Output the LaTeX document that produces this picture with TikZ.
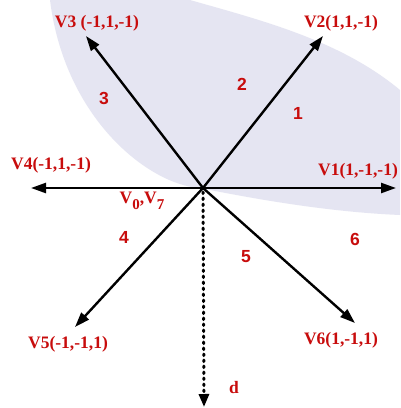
\documentclass[tikz,border=0pt]{standalone}
\usepackage{fontspec}
\setmainfont{Liberation Serif}
\newfontfamily\numfont{Liberation Sans}
\usetikzlibrary{arrows.meta}
\definecolor{lab}{RGB}{200,12,12}
\definecolor{lav}{RGB}{229,229,242}
\newcommand{\lowsub}[1]{\raisebox{-6pt}{\fontsize{15}{15}\selectfont #1}}
\tikzset{
  vec/.style={line width=2.4pt, -{Triangle[length=15pt,width=10pt]}},
  dvec/.style={line width=3pt, line cap=round, dash pattern=on 1.6pt off 4.4pt, -{Triangle[length=13pt,width=10pt]}},
  vlab/.style={text=lab, font=\fontsize{17.5}{18}\selectfont\bfseries, anchor=base, inner sep=0pt},
  slab/.style={text=lab, font=\fontsize{17.5}{18}\selectfont\numfont\bfseries, inner sep=0pt}
}
\begin{document}
\begin{tikzpicture}[x=1pt,y=-1pt]
\useasboundingbox (0,0) rectangle (400,408);
\fill[white] (0,0) rectangle (400,408);
% faint background band
\fill[lav] (50,0) .. controls (65,120) and (150,185) .. (200,188)
  .. controls (260,200) and (330,212) .. (400,215) -- (400,90)
  .. controls (340,40) and (260,20) .. (190,0) -- cycle;
% centre and tips
\coordinate (o) at (203,188);
\coordinate (t1) at (396,188);
\coordinate (t2) at (323,36);
\coordinate (t3) at (86,36);
\coordinate (t4) at (31,188);
\coordinate (t5) at (75,327);
\coordinate (t6) at (355,323);
\coordinate (td) at (204,407);
\draw[vec] (o) -- (t1);
\draw[vec] (o) -- (t2);
\draw[vec] (o) -- (t3);
\draw[vec] (o) -- (t4);
\draw[vec] (o) -- (t5);
\draw[vec] (o) -- (t6);
\draw[dvec] ([yshift=-4pt]o) -- (td);
% vector labels
\node[vlab] (l3) at (97,27) {V3 (-1,1,-1)};
\node[vlab] (l2) at (341,27) {V2(1,1,-1)};
\node[vlab] (l4) at (51,169) {V4(-1,1,-1)};
\node[vlab] (l1) at (358,175) {V1(1,-1,-1)};
\node[vlab] (l0) at (142,203) {V\lowsub{0},V\lowsub{7}};
\node[vlab] (l5) at (68,348) {V5(-1,-1,1)};
\node[vlab] (l6) at (341,344) {V6(1,-1,1)};
\node[vlab] (ld) at (234,393) {d};
% sector numbers
\node[slab] (s1) at (298,113) {1};
\node[slab] (s2) at (242,84) {2};
\node[slab] (s3) at (104,98) {3};
\node[slab] (s4) at (124,237) {4};
\node[slab] (s5) at (246,257) {5};
\node[slab] (s6) at (355,239) {6};
\end{tikzpicture}
\end{document}
